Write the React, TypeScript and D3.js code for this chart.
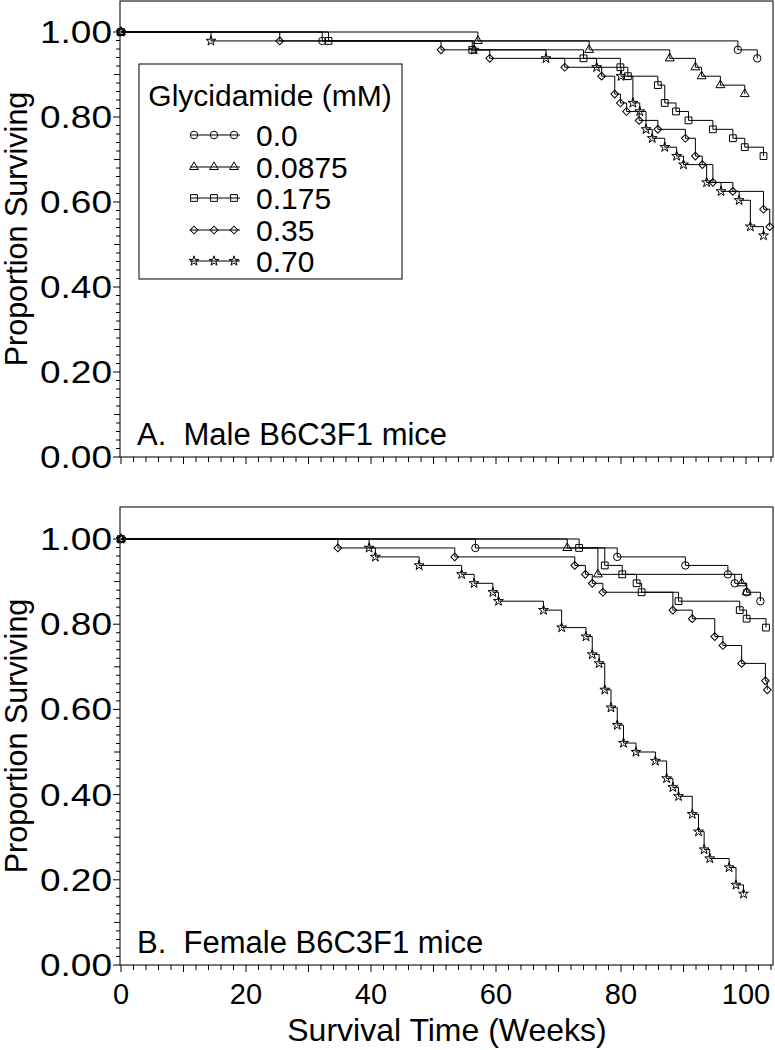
import React from 'react';
import * as d3 from 'd3';

// ---------- data ----------
const groupLabels = ['0.0', '0.0875', '0.175', '0.35', '0.70'];
const groupShapes = ['circle', 'triangle', 'square', 'diamond', 'star'];

// Panel A: male, event times (weeks) and survival proportion after each event
const maleCircleT = [0, 32.2, 98.7, 101.8];
const maleCircleS = [1, 0.979, 0.958, 0.938];
const maleTriangleT = [0, 57.1, 74.9, 87.8, 91.9, 92.9, 95.9, 99.8];
const maleTriangleS = [1, 0.979, 0.958, 0.938, 0.917, 0.896, 0.875, 0.854];
const maleSquareT = [0, 33.2, 56.2, 74.0, 79.9, 81.1, 85.9, 87.0, 88.8, 90.8, 94.7, 97.9, 99.8, 102.8];
const maleSquareS = [1, 0.979, 0.958, 0.938, 0.917, 0.896, 0.875, 0.833, 0.813, 0.792, 0.771, 0.75, 0.729, 0.708];
const maleDiamondT = [0, 25.4, 51.2, 59.0, 71.0, 76.9, 79.0, 79.9, 80.9, 82.9, 85.9, 90.3, 91.9, 93.0, 94.7, 97.9, 102.8, 103.8];
const maleDiamondS = [1, 0.979, 0.958, 0.938, 0.917, 0.896, 0.854, 0.833, 0.813, 0.792, 0.771, 0.75, 0.708, 0.688, 0.646, 0.625, 0.583, 0.542];
const maleStarT = [0, 14.4, 56.5, 68.0, 76.1, 80.0, 81.9, 83.0, 84.0, 85.0, 87.0, 88.9, 90.0, 93.7, 96.0, 98.9, 100.7, 102.8];
const maleStarS = [1, 0.979, 0.958, 0.938, 0.917, 0.896, 0.833, 0.813, 0.771, 0.75, 0.729, 0.708, 0.688, 0.646, 0.625, 0.604, 0.542, 0.521];

// Panel B: female
const femaleCircleT = [0, 56.7, 79.4, 90.3, 97.1, 98.2, 100.1, 102.3];
const femaleCircleS = [1, 0.979, 0.958, 0.938, 0.917, 0.896, 0.875, 0.854];
const femaleTriangleT = [0, 71.4, 76.3, 99.3, 100.1];
const femaleTriangleS = [1, 0.979, 0.917, 0.896, 0.875];
const femaleSquareT = [0, 73.3, 77.4, 80.2, 82.5, 83.3, 89.2, 99.0, 100.1, 103.2];
const femaleSquareS = [1, 0.979, 0.938, 0.917, 0.896, 0.875, 0.854, 0.833, 0.813, 0.792];
const femaleDiamondT = [0, 34.7, 53.4, 72.6, 74.3, 75.4, 77.1, 88.3, 91.4, 95.0, 96.3, 99.3, 103.1, 103.4];
const femaleDiamondS = [1, 0.979, 0.958, 0.938, 0.917, 0.896, 0.875, 0.833, 0.813, 0.771, 0.75, 0.708, 0.667, 0.646];
const femaleStarT = [0, 39.7, 40.7, 47.7, 54.5, 56.5, 59.5, 60.4, 67.6, 70.5, 74.4, 75.4, 76.5, 77.4, 78.4, 79.4, 80.4, 82.4, 85.5, 87.3, 88.3, 89.2, 91.4, 92.4, 93.3, 94.2, 97.3, 98.4, 99.6];
const femaleStarS = [1, 0.979, 0.958, 0.938, 0.917, 0.896, 0.875, 0.854, 0.833, 0.792, 0.771, 0.729, 0.708, 0.646, 0.604, 0.563, 0.521, 0.5, 0.479, 0.438, 0.417, 0.396, 0.354, 0.313, 0.271, 0.25, 0.229, 0.188, 0.167];

const yTickValues = [0, 0.2, 0.4, 0.6, 0.8, 1.0];
const xTickValues = [0, 20, 40, 60, 80, 100];

const maleSeries = [
  [maleCircleT, maleCircleS],
  [maleTriangleT, maleTriangleS],
  [maleSquareT, maleSquareS],
  [maleDiamondT, maleDiamondS],
  [maleStarT, maleStarS],
];
const femaleSeries = [
  [femaleCircleT, femaleCircleS],
  [femaleTriangleT, femaleTriangleS],
  [femaleSquareT, femaleSquareS],
  [femaleDiamondT, femaleDiamondS],
  [femaleStarT, femaleStarS],
];

// ---------- layout ----------
const FONT = '"Liberation Sans", Arial, Helvetica, sans-serif';
const frameLeft = 120;
const frameRight = 773;
const xScale = d3.scaleLinear().domain([0, 100]).range([121, 746]);

const panels = [
  { top: 1, y0: 457, y1: 32, label: 'A.  Male B6C3F1 mice', series: maleSeries, showX: false },
  { top: 507, y0: 965, y1: 539, label: 'B.  Female B6C3F1 mice', series: femaleSeries, showX: true },
];

function markerPath(shape: string): string {
  const sym = d3.symbol();
  switch (shape) {
    case 'circle': return sym.type(d3.symbolCircle).size(44)() as string;
    case 'triangle': return sym.type(d3.symbolTriangle).size(34)() as string;
    case 'square': return sym.type(d3.symbolSquare).size(46)() as string;
    case 'diamond': return sym.type(d3.symbolSquare).size(30)() as string;
    case 'star': return sym.type(d3.symbolStar).size(30)() as string;
  }
  return '';
}

function Marker({ shape, x, y }: { shape: string; x: number; y: number }) {
  const rot = shape === 'diamond' ? ' rotate(45)' : '';
  return (
    <path d={markerPath(shape)} transform={`translate(${x},${y})${rot}`} fill="none" stroke="#000" strokeWidth={1} />
  );
}

function Panel({ p }: { p: typeof panels[0] }) {
  const yScale = d3.scaleLinear().domain([0, 1]).range([p.y0, p.y1]);
  const line = d3.line<[number, number]>()
    .x((d) => xScale(d[0]))
    .y((d) => yScale(d[1]))
    .curve(d3.curveStepAfter);
  const minorY = d3.range(0, 51).map((i) => i * 0.02);
  const minorX = d3.range(0, 53).map((i) => i * 2);
  return (
    <g>
      {/* frame */}
      <rect x={frameLeft} y={p.top} width={frameRight - frameLeft} height={p.y0 - p.top} fill="none" stroke="#222" strokeWidth={1.2} />
      {/* y ticks */}
      {minorY.map((v, i) => {
        const major = i % 10 === 0;
        const mid = i % 5 === 0;
        const len = major ? 7 : mid ? 6 : 4;
        return <line key={'y' + i} x1={frameLeft - len} x2={frameLeft} y1={yScale(v)} y2={yScale(v)} stroke="#000" strokeWidth={1} />;
      })}
      {yTickValues.map((v) => (
        <text key={'yl' + v} x={112} y={yScale(v) + 11} textAnchor="end" fontFamily={FONT} fontSize={31} fill="#000"
          textLength={72} lengthAdjust="spacingAndGlyphs">
          {v.toFixed(2)}
        </text>
      ))}
      {/* x ticks */}
      {minorX.map((v, i) => {
        const major = i % 5 === 0;
        const len = major ? 7 : 5;
        return <line key={'x' + i} x1={xScale(v)} x2={xScale(v)} y1={p.y0} y2={p.y0 + len} stroke="#000" strokeWidth={1} />;
      })}
      {p.showX && xTickValues.map((v) => (
        <text key={'xl' + v} x={xScale(v)} y={1004} textAnchor="middle" fontFamily={FONT} fontSize={29} fill="#000">
          {v}
        </text>
      ))}
      {/* y title */}
      <text transform={`translate(27,${(p.top + p.y0) / 2}) rotate(-90)`} textAnchor="middle" fontFamily={FONT} fontSize={30.5} fill="#000">
        Proportion Surviving
      </text>
      {/* panel label */}
      <text x={137} y={p.y0 - 12} fontFamily={FONT} fontSize={31} fill="#000" style={{ whiteSpace: 'pre' }}>
        {p.label}
      </text>
      {/* curves */}
      {p.series.map(([ts, ss], gi) => {
        const pts = ts.map((t, i) => [t, ss[i]] as [number, number]);
        return (
          <g key={'s' + gi}>
            <path d={line(pts) as string} fill="none" stroke="#000" strokeWidth={1} />
            {pts.map((d, i) => (
              <Marker key={i} shape={groupShapes[gi]} x={xScale(d[0])} y={yScale(d[1])} />
            ))}
          </g>
        );
      })}
    </g>
  );
}

function Legend() {
  const rows = [135, 167, 198, 230, 261];
  return (
    <g>
      <rect x={139} y={64} width={263} height={215} fill="#fff" stroke="#000" strokeWidth={1} />
      <text x={270} y={106} textAnchor="middle" fontFamily={FONT} fontSize={30} fill="#000">Glycidamide (mM)</text>
      {groupLabels.map((g, i) => (
        <g key={g}>
          <line x1={190} x2={240} y1={rows[i]} y2={rows[i]} stroke="#000" strokeWidth={1} />
          {[194, 214, 234].map((mx) => (
            <Marker key={mx} shape={groupShapes[i]} x={mx} y={rows[i]} />
          ))}
          <text x={256} y={rows[i] + 10.5} fontFamily={FONT} fontSize={30} fill="#000">{g}</text>
        </g>
      ))}
    </g>
  );
}

export default function App() {
  return (
    <svg width={775} height={1050} style={{ display: 'block', position: 'absolute', left: 0, top: 0, background: '#fff' }}>
      <rect x={0} y={0} width={775} height={1050} fill="#fff" />
      {panels.map((p, i) => <Panel key={i} p={p} />)}
      <Legend />
      <text x={447} y={1041} textAnchor="middle" fontFamily={FONT} fontSize={32} fill="#000">Survival Time (Weeks)</text>
    </svg>
  );
}
